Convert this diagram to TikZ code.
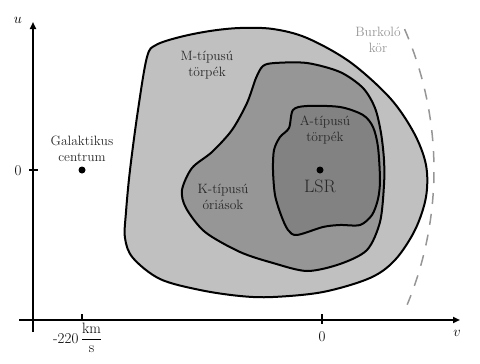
\documentclass[tikz,border=0pt]{standalone}
\usepackage{amsmath}
\usetikzlibrary{arrows.meta}
\definecolor{mgray}{RGB}{192,192,192}
\definecolor{kgray}{RGB}{150,150,150}
\definecolor{agray}{RGB}{130,130,130}
\definecolor{txtgray}{RGB}{40,40,40}
\definecolor{burk}{RGB}{150,150,150}
\begin{document}
\begin{tikzpicture}[x=1pt,y=-1pt,
  region/.style={draw=black,line width=2pt,line join=round},
  axis/.style={line width=2pt},
  lbl/.style={font=\fontsize{13.5}{16}\selectfont,align=center,text=txtgray,inner sep=0pt},
  axl/.style={font=\fontsize{15}{18}\selectfont,text=black,inner sep=0pt},
  dot/.style={circle,fill=black,inner sep=0pt,minimum size=7pt}]
\useasboundingbox (0,0) rectangle (480,364);
% M region
\draw[region,fill=mgray] plot[smooth cycle,tension=0.55] coordinates {
 (147,57) (156,45) (180,37) (210,31) (240,28) (273,29) (307,38) (350,62) (390,98)
 (414,133) (426,165) (426,197) (415,230) (395,260) (370,278) (323,292)
 (273,297) (240,296) (200,290) (160,279) (133,258) (125,238) (126,212)
 (130,170) (138,110)};
% K region
\draw[region,fill=kgray] plot[smooth cycle,tension=0.5] coordinates {
 (263,66) (275,63) (307,63) (340,72) (363,88) (375,108) (381,133) (384,160)
 (384,185) (380,222) (367,250) (340,264) (307,271) (273,263) (240,252)
 (205,232) (186,208) (182,190) (192,168) (212,152) (232,130) (247,103) (256,78)};
% A region
\draw[region,fill=agray] plot[smooth cycle,tension=0.5] coordinates {
 (293,110) (307,106) (340,107) (363,115) (373,127) (378,147) (380,180)
 (378,199) (372,215) (360,225) (340,225) (323,227) (297,235) (288,230)
 (281,215) (275,195) (273,170) (274,150) (280,137) (289,128)};
% Burkolo kor
\draw[burk,line width=1.5pt,dash pattern=on 11pt off 10pt]
  plot[domain=-23.6:22.5,samples=60] ({82+352*cos(\x)},{170+352*sin(\x)});
\node[lbl,text=burk] (burkl) at (378,40) {Burkoló\\kör};
% axes
\coordinate (ub) at (33,332);
\coordinate (ut) at (33,22);
\coordinate (vl) at (19,320);
\coordinate (vr) at (460,320);
\draw[axis,-{Triangle[length=7pt,width=6pt]}] (ub) -- (ut);
\draw[axis,-{Triangle[length=7pt,width=6pt]}] (vl) -- (vr);
\coordinate (t0a) at (82,314);
\coordinate (t0b) at (82,320);
\coordinate (t1a) at (322,314);
\coordinate (t1b) at (322,324);
\coordinate (t2a) at (29,170);
\coordinate (t2b) at (38,170);
\draw[line width=1.5pt] (t0a) -- (t0b);
\draw[line width=1.5pt] (t1a) -- (t1b);
\draw[line width=1.5pt] (t2a) -- (t2b);
\node[axl] (ulab) at (18,20) {$u$};
\node[axl] (vlab) at (457,333) {$v$};
\node[axl] (u0) at (18,171) {0};
\node[axl] (v0) at (322,337) {0};
\node[axl,anchor=west] (v220) at (53,338) {-220\,$\dfrac{\text{km}}{\text{s}}$};
% points
\node[dot] (gc) at (82,170) {};
\node[lbl] (gcl) at (82,149) {Galaktikus\\centrum};
\node[dot] (lsr) at (320,170) {};
\node[lbl,font=\fontsize{18}{20}\selectfont] (lsrl) at (320,186) {LSR};
% region labels
\node[lbl] (ml) at (207,65) {M-típusú\\törpék};
\node[lbl] (al) at (325,130) {A-típusú\\törpék};
\node[lbl] (kl) at (223,197) {K-típusú\\óriások};
\end{tikzpicture}
\end{document}
